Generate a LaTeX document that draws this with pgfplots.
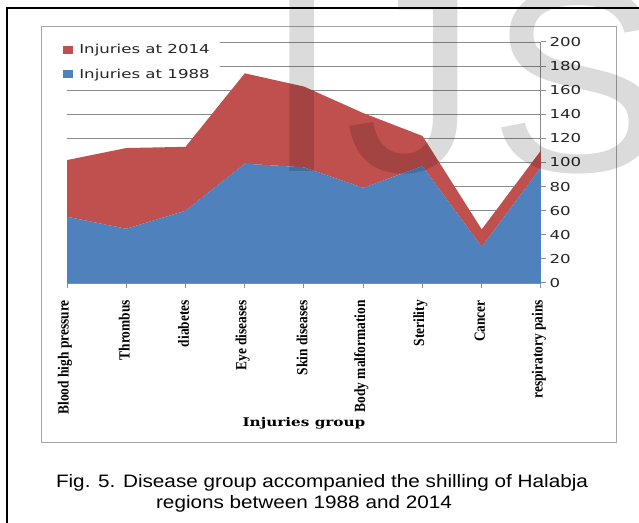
\documentclass[border=0pt]{standalone}
\usepackage{pgfplots}
\pgfplotsset{compat=1.18}
\usepackage{fontspec}
\setmainfont{Liberation Sans}
\newfontfamily\legfont[FakeStretch=1.35]{DejaVu Sans}
\newfontfamily\catfont[FakeStretch=0.865]{Liberation Serif Bold}
\newfontfamily\labfont[FakeStretch=1.27]{DejaVu Serif Bold}
\newfontfamily\capfont[FakeStretch=1.15]{Liberation Sans}
\newfontfamily\wmfont{Liberation Sans}
\definecolor{exred}{HTML}{C0504D}
\definecolor{exblue}{HTML}{4F81BD}
\definecolor{gridgray}{HTML}{8C8C8C}
\definecolor{boxgray}{HTML}{A6A6A6}
\begin{document}
\begin{tikzpicture}
\useasboundingbox (0,0) rectangle (639bp,523bp);
\clip (0,0) rectangle (639bp,523bp);
\fill[white] (0,0) rectangle (639bp,523bp);
\draw[line width=2bp] (7bp,-10bp) -- (7bp,515bp) -- (660bp,515bp);
\draw[boxgray, line width=1bp] (41bp,80bp) rectangle (616bp,496bp);
\begin{axis}[
  at={(67bp,240bp)}, anchor=south west,
  scale only axis, width=474bp, height=241bp,
  xmin=0, xmax=8, ymin=0, ymax=200,
  axis x line*=bottom, axis y line*=right,
  axis line style={gridgray, line width=1bp},
  xtick={0,...,8},
  xticklabels={Blood high pressure, Thrombus, diabetes, Eye diseases, Skin diseases, Body malformation, Sterility, Cancer, respiratory pains},
  xticklabel style={rotate=90, anchor=east, inner sep=0pt, xshift=-12bp, yshift=2bp, font=\catfont\fontsize{15.5bp}{17bp}\selectfont},
  ytick={0,20,...,200},
  yticklabel style={font=\legfont\fontsize{12.3bp}{14bp}\selectfont, text=black!85},
  /pgf/number format/assume math mode=true,
  ymajorgrids, grid style={gridgray, line width=0.8bp},
  tick style={gridgray, line width=1bp},
  tick align=outside, major tick length=5bp,
  xlabel={Injuries group},
  xlabel style={font=\labfont\fontsize{12bp}{14bp}\selectfont, at={(axis description cs:0.5,-0.581)}, anchor=center},
  stack plots=y,
  reverse legend,
  legend cell align=left,
  legend image code/.code={\fill[#1] (0bp,-4bp) rectangle (10bp,4bp);},
  legend style={at={(-0.025,1.021)}, anchor=north west, draw=none, fill=white,
    font=\legfont\fontsize{12.3bp}{14bp}\selectfont, text=black!85,
    inner xsep=8bp, inner ysep=5bp, row sep=10bp,
    /tikz/every odd column/.append style={column sep=4bp}},
]
\addplot[fill=exblue, draw=none] coordinates {(0,55) (1,45) (2,60) (3,99) (4,96) (5,79) (6,97) (7,30) (8,96)} \closedcycle;
\addplot[fill=exred, draw=none] coordinates {(0,47) (1,67) (2,53) (3,75) (4,67) (5,62) (6,25) (7,14.5) (8,14)} \closedcycle;
\legend{Injuries at 1988, Injuries at 2014}
\end{axis}
\node[anchor=base west, inner sep=0pt, opacity=0.14, font=\wmfont\fontsize{264bp}{264bp}\selectfont] at (265bp,351bp) {I};
\node[anchor=base west, inner sep=0pt, opacity=0.14, font=\wmfont\fontsize{264bp}{264bp}\selectfont] at (345bp,351bp) {J};
\node[anchor=base west, inner sep=0pt, opacity=0.14, font=\wmfont\fontsize{264bp}{264bp}\selectfont] at (489bp,351bp) {S};
\node[anchor=base, inner sep=0pt, font=\capfont\fontsize{18bp}{22bp}\selectfont] at (322bp,36bp) {Fig. 5. Disease group accompanied the shilling of Halabja};
\node[anchor=base, inner sep=0pt, font=\capfont\fontsize{18bp}{22bp}\selectfont] at (304bp,15bp) {regions between 1988 and 2014};
\end{tikzpicture}
\end{document}
